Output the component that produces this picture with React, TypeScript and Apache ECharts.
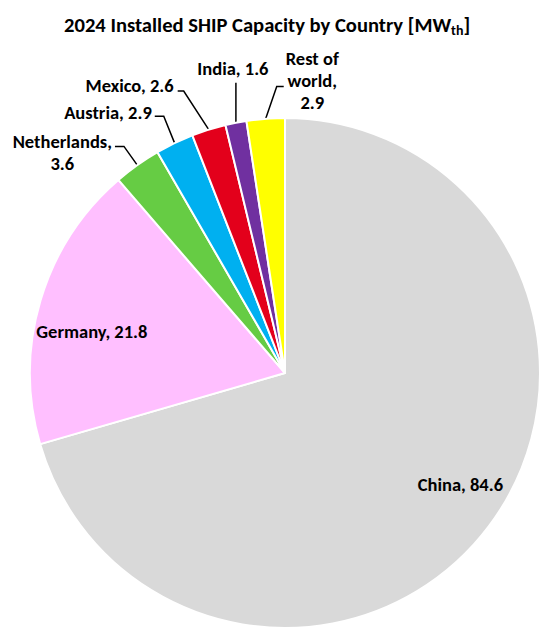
import React, { useEffect, useRef } from 'react';
import * as echarts from 'echarts';

// ---- data ----
const countries = ['China', 'Germany', 'Netherlands', 'Austria', 'Mexico', 'India', 'Rest of world'];
const capacities = [84.6, 21.8, 3.6, 2.9, 2.6, 1.6, 2.9];
const labelNames = ['China', 'Germany', 'Netherlands', 'Austria', 'Mexico', 'India', 'Rest of\nworld'];
const labelSeparators = [', ', ', ', ',\n', ', ', ', ', ', ', ',\n'];
const sliceColors = ['#d9d9d9', '#ffbfff', '#66cc44', '#00b0f0', '#e3001b', '#7030a0', '#ffff00'];
const titleText = '2024 Installed SHIP Capacity by Country [MW{sub|th}]';

// ---- layout / style config ----
const FONT = 'Carlito, Lato, sans-serif';
const CENTER = [285, 373];
const RADIUS = 255;
type Geom = {
  kind: 'inside' | 'left' | 'right' | 'top';
  dx?: number; dy?: number; len1?: number; len2?: number; gap?: number; angle?: number;
};
const labelGeom: Geom[] = [
  { kind: 'inside', dx: 71, dy: 33 },
  { kind: 'inside', dx: -68, dy: -4 },
  { kind: 'left', len1: 23, len2: 9, gap: 3, dy: 6.5 },
  { kind: 'left', angle: -22, len1: 29, len2: 9, gap: 3, dy: -4 },
  { kind: 'left', angle: -33, len1: 46, len2: 6, gap: 4, dy: -6 },
  { kind: 'top', angle: 0, len1: 40, gap: 3, dx: -3 },
  { kind: 'right', angle: 19, len1: 34, len2: 7, gap: 2, dy: -6 },
];

export default function App() {
  const ref = useRef<HTMLDivElement>(null);
  useEffect(() => {
    if (!ref.current) return;
    const chart = echarts.init(ref.current, undefined, { renderer: 'svg' });
    const data = countries.map((name, i) => {
      const g = labelGeom[i];
      const inside = g.kind === 'inside';
      return {
        name,
        value: capacities[i],
        itemStyle: { color: sliceColors[i] },
        label: { position: inside ? 'inside' : 'outside' },
        labelLine: { show: !inside },
      };
    });
    chart.setOption({
      animation: false,
      backgroundColor: '#ffffff',
      title: {
        text: titleText,
        left: 64,
        top: 7,
        padding: [5, 0, 5, 0],
        textStyle: {
          fontFamily: FONT,
          fontSize: 20.6,
          fontWeight: 'bold',
          color: '#000000',
          rich: {
            sub: {
              fontFamily: FONT,
              fontSize: 14,
              fontWeight: 'bold',
              color: '#000000',
              verticalAlign: 'top',
              padding: [11, 0, 0, 0],
            },
          },
        },
      },
      series: [
        {
          type: 'pie',
          center: CENTER,
          radius: RADIUS,
          startAngle: 90,
          clockwise: true,
          avoidLabelOverlap: false,
          itemStyle: { borderColor: '#ffffff', borderWidth: 2 },
          emphasis: { disabled: true },
          label: {
            show: true,
            fontFamily: FONT,
            fontSize: 18.5,
            fontWeight: 'bold',
            color: '#000000',
            lineHeight: 22,
            align: 'center',
            formatter: (p: any) =>
              labelNames[p.dataIndex] + labelSeparators[p.dataIndex] + Number(p.value).toFixed(1),
          },
          labelLine: {
            show: true,
            length: 10,
            length2: 5,
            lineStyle: { color: '#000000', width: 1.5 },
          },
          labelLayout: (params: any) => {
            const g = labelGeom[params.dataIndex];
            if (!g) return {};
            if (g.kind === 'inside') return { dx: g.dx, dy: g.dy };
            const pts = params.labelLinePoints;
            if (!pts || !pts.length) return {};
            const p0 = pts[0];
            let ux = p0[0] - CENTER[0];
            let uy = p0[1] - CENTER[1];
            const L = Math.hypot(ux, uy) || 1;
            ux /= L;
            uy /= L;
            if (g.angle != null) {
              const a = (g.angle * Math.PI) / 180;
              ux = Math.sin(a);
              uy = -Math.cos(a);
            }
            const len1 = g.len1 || 0;
            const q1 = [p0[0] + ux * len1, p0[1] + uy * len1];
            const dir = g.kind === 'right' ? 1 : -1;
            const q2 = g.kind === 'top' ? [q1[0], q1[1]] : [q1[0] + dir * (g.len2 || 0), q1[1]];
            const r = params.labelRect;
            let x: number;
            let y: number;
            if (g.kind === 'left') {
              x = q2[0] - (g.gap || 0) - r.width / 2;
              y = q2[1] + (g.dy || 0);
            } else if (g.kind === 'right') {
              x = q2[0] + (g.gap || 0) + r.width / 2;
              y = q2[1] + (g.dy || 0);
            } else {
              x = q2[0] + (g.dx || 0);
              y = q2[1] - (g.gap || 0) - r.height / 2;
            }
            return {
              x,
              y,
              align: 'center',
              verticalAlign: 'middle',
              labelLinePoints: [p0, q1, q2],
            };
          },
          data,
        },
      ],
    });
    return () => chart.dispose();
  }, []);
  return (
    <div
      ref={ref}
      style={{ position: 'fixed', left: 0, top: 0, width: 550, height: 638, background: '#fff' }}
    />
  );
}
